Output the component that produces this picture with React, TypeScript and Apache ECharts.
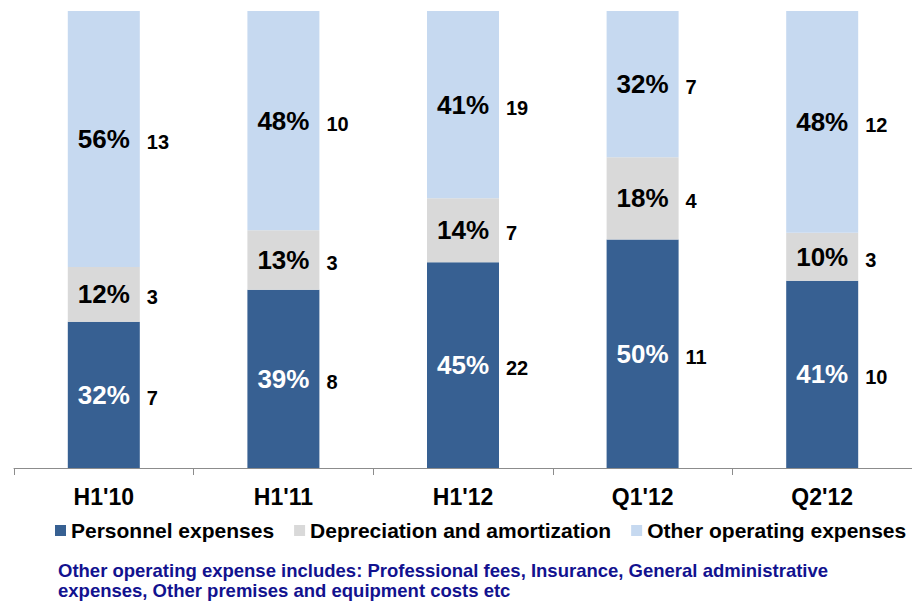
import React, { useEffect, useRef } from "react";
import * as echarts from "echarts";

const categories = ["H1'10", "H1'11", "H1'12", "Q1'12", "Q2'12"];
const seriesNames = ["Personnel expenses", "Depreciation and amortization", "Other operating expenses"];
// segment shares (% of each bar)
const personnelShare = [32, 39, 45, 50, 41];
const depreciationShare = [12, 13, 14, 18, 10.5];
const otherShare = [56, 48, 41, 32, 48.5];
// printed percentage labels
const personnelPct = ["32%", "39%", "45%", "50%", "41%"];
const depreciationPct = ["12%", "13%", "14%", "18%", "10%"];
const otherPct = ["56%", "48%", "41%", "32%", "48%"];
// absolute values printed next to bars
const personnelValue = [7, 8, 22, 11, 10];
const depreciationValue = [3, 3, 7, 4, 3];
const otherValue = [13, 10, 19, 7, 12];
const footnoteLines = [
  "Other operating expense includes: Professional fees, Insurance, General administrative",
  "expenses, Other premises and equipment costs etc",
];

const colors = ["#376092", "#D9D9D9", "#C6D9F0"];
const FONT = "'Liberation Sans', Arial, sans-serif";

export default function App() {
  const ref = useRef<HTMLDivElement>(null);
  useEffect(() => {
    if (!ref.current) return;
    const chart = echarts.init(ref.current, undefined, { renderer: "svg" });
    const shares = [personnelShare, depreciationShare, otherShare];
    const pcts = [personnelPct, depreciationPct, otherPct];
    const vals = [personnelValue, depreciationValue, otherValue];
    const pctColors = ["#ffffff", "#000000", "#000000"];

    const mainSeries = shares.map((arr, i) => ({
      name: seriesNames[i],
      type: "bar",
      stack: "a",
      xAxisIndex: 0,
      barWidth: 72,
      data: arr,
      itemStyle: { color: colors[i] },
      label: {
        show: true,
        position: "inside",
        formatter: (p: any) => pcts[i][p.dataIndex],
        color: pctColors[i],
        fontFamily: FONT,
        fontWeight: "bold",
        fontSize: 26,
      },
    }));
    const valueSeries = shares.map((arr, i) => ({
      name: seriesNames[i] + " value",
      type: "bar",
      stack: "b",
      xAxisIndex: 1,
      barWidth: 72,
      data: arr,
      silent: true,
      itemStyle: { color: "rgba(0,0,0,0)" },
      label: {
        show: true,
        position: "right",
        distance: 7,
        offset: [0, 3],
        formatter: (p: any) => String(vals[i][p.dataIndex]),
        color: "#000000",
        fontFamily: FONT,
        fontWeight: "bold",
        fontSize: 20,
      },
    }));

    chart.setOption({
      animation: false,
      grid: { left: 14, top: 11, width: 900, height: 457 },
      legend: {
        data: seriesNames,
        left: 55,
        top: 520,
        width: 900,
        padding: 0,
        icon: "rect",
        itemWidth: 11,
        itemHeight: 11,
        itemGap: 20,
        textStyle: { fontFamily: FONT, fontWeight: "bold", fontSize: 21, color: "#000" },
      },
      xAxis: [
        {
          type: "category",
          data: categories,
          axisLine: { lineStyle: { color: "#8c8c8c", width: 1 } },
          axisTick: { show: true, length: 7, lineStyle: { color: "#8c8c8c" } },
          axisLabel: {
            fontFamily: FONT,
            fontWeight: "bold",
            fontSize: 23,
            color: "#000",
            margin: 17,
          },
        },
        { type: "category", data: categories, show: false },
      ],
      yAxis: { type: "value", min: 0, max: 100, show: false },
      graphic: footnoteLines.map((t, i) => ({
        type: "text",
        left: 58,
        top: 561 + i * 20,
        style: {
          text: t,
          fill: "#12128f",
          font: `bold 18.5px ${FONT}`,
        },
      })),
      series: [...mainSeries, ...valueSeries],
    });
    return () => chart.dispose();
  }, []);
  return <div ref={ref} style={{ width: 912, height: 603, position: "absolute", left: 0, top: 0 }} />;
}
